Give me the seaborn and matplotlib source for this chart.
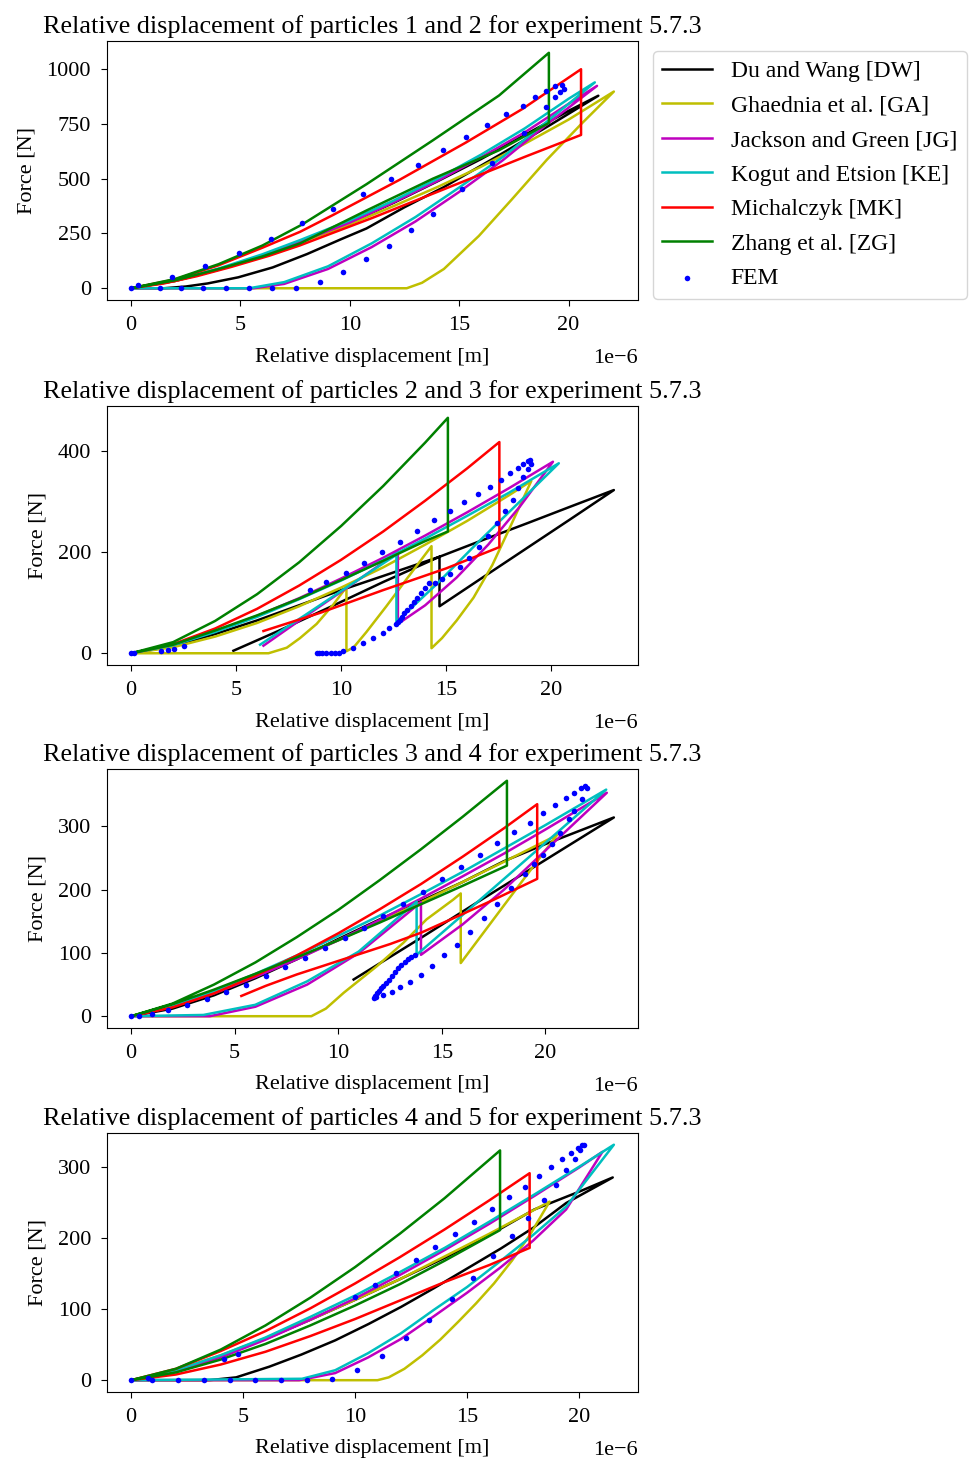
import numpy as np
import matplotlib
matplotlib.use("Agg")
import matplotlib.pyplot as plt
import seaborn as sns

# ---------------------------------------------------------------------------
# Labels
# ---------------------------------------------------------------------------
MODELS = ["Du and Wang [DW]", "Ghaednia et al. [GA]", "Jackson and Green [JG]",
          "Kogut and Etsion [KE]", "Michalczyk [MK]", "Zhang et al. [ZG]"]
MODEL_KEYS = ["DW", "GA", "JG", "KE", "MK", "ZG"]
COLORS = ["k", "y", "m", "c", "r", "g"]
PAIRS = ["1 and 2", "2 and 3", "3 and 4", "4 and 5"]
EXPERIMENT = "5.7.3"
X_TICKS_UM = [0, 5, 10, 15, 20]
Y_TICKS = [[0, 250, 500, 750, 1000], [0, 200, 400], [0, 100, 200, 300], [0, 100, 200, 300]]

# ---------------------------------------------------------------------------
# Force [N] vs relative displacement [um]; each path follows the loop in order
# ---------------------------------------------------------------------------
# particles 1 and 2
P1_DW_X = [0, 2, 4, 6, 8, 10, 12, 14, 16, 18, 20, 21.36, 19.1, 16.8, 14.3, 12.5, 10.76, 9.6, 8.04, 6.47, 4.9, 3.5, 2.5, 1.5, 0]
P1_DW_Y = [0, 33, 85, 150, 225, 300, 390, 488, 590, 700, 810, 879, 742, 606, 462, 370, 273, 224, 156, 95, 50, 22, 8, 0, 0]
P1_GA_X = [0, 2, 4, 6, 7.73, 10, 12, 14, 16, 18, 20, 22.07, 20.6, 19.0, 17.4, 15.9, 14.3, 13.3, 12.6, 0]
P1_GA_Y = [0, 33, 85, 148, 208, 292, 375, 462, 555, 660, 770, 898, 752, 586, 405, 239, 88, 25, 0, 0]
P1_JG_X = [0, 2, 4, 6, 7.73, 10, 12, 14, 16, 18, 20, 21.3, 19, 17, 15, 13, 11, 9, 7, 5.6, 0]
P1_JG_Y = [0, 34, 87, 150, 212, 300, 392, 490, 598, 712, 842, 924, 748, 585, 440, 305, 188, 88, 20, 0, 0]
P1_KE_X = [0, 2, 4, 6, 7.73, 10, 12, 14, 16, 18, 20, 21.2, 19, 17, 15, 13, 11, 9, 7, 5.4, 0]
P1_KE_Y = [0, 35, 90, 155, 220, 310, 400, 500, 610, 730, 865, 940, 760, 600, 460, 325, 205, 100, 28, 0, 0]
P1_MK_X = [0, 2, 4, 6, 7.73, 9.24, 12.27, 15.3, 17.88, 20.57, 20.57, 18, 15.5, 13, 11, 9.2, 7.7, 6.3, 4.6, 3, 1.5, 0]
P1_MK_Y = [0, 40, 105, 185, 258, 335, 495, 665, 818, 1000, 700, 600, 500, 400, 320, 252, 195, 148, 98, 55, 22, 0]
P1_ZG_X = [0, 2, 4, 6, 7.8, 10.76, 13.79, 16.82, 19.1, 19.1, 16.82, 13.79, 10.76, 7.73, 6, 4, 2, 0]
P1_ZG_Y = [0, 42, 110, 195, 290, 475, 675, 880, 1075, 755, 630, 500, 355, 205, 145, 88, 36, 0]
P1_FEM_X = [0, 0.3, 1.85, 3.39, 4.91, 6.39, 7.8, 9.21, 10.6, 11.9, 13.1, 14.27, 15.3, 16.26, 17.12, 17.9,
            18.48, 18.97, 19.36, 19.7, 19.77, 19.62, 19.36, 18.97, 17.95, 16.49, 15.15, 13.8, 12.8, 11.79,
            10.75, 9.7, 8.64, 7.54, 6.43, 5.38, 4.33, 3.29, 2.27, 1.3]
P1_FEM_Y = [0, 15, 53, 101, 163, 227, 297, 364, 430, 500, 565, 630, 689, 745, 797, 834,
            872, 901, 924, 928, 912, 898, 871, 826, 710, 570, 455, 340, 264, 193,
            133, 76, 30, 0, 0, 0, 0, 0, 0, 0]

# particles 2 and 3
P2_DW_X = [0, 2, 4, 6, 8, 10, 12, 14.68, 16.8, 18.9, 20.9, 22.98, 20.9, 18.8, 16.7, 14.68, 14.68, 12, 9.5, 7, 4.87]
P2_DW_Y = [0, 14, 38, 65, 95, 125, 153, 191, 225, 258, 290, 323, 265, 207, 149, 93, 191, 141, 92, 44, 5]
P2_GA_X = [0, 2, 4, 6, 8, 10, 12, 14, 16, 18, 19.05, 18.1, 17.2, 16.3, 15.5, 14.8, 14.3, 14.3, 13.1, 12.15,
           11.2, 10.6, 10.25, 10.25, 9.62, 8.83, 8.04, 7.41, 6.54, 0]
P2_GA_Y = [0, 12, 33, 60, 93, 130, 170, 215, 262, 313, 341, 255, 175, 110, 65, 30, 10, 212, 146, 93,
           42, 12, 4, 131, 96, 58, 30, 11, 0, 0]
P2_JG_X = [0, 2, 4, 6, 8, 10, 12, 14, 16, 18, 20.08, 18.5, 17, 15.5, 14, 12.7, 12.7, 10.5, 8.5, 6.3]
P2_JG_Y = [0, 17, 43, 74, 109, 148, 189, 233, 279, 327, 379, 290, 215, 150, 95, 58, 200, 136, 79, 15]
P2_KE_X = [0, 2, 4, 6, 8, 10, 12, 14, 16, 18, 20.36, 18.5, 16.5, 14.5, 12.63, 12.63, 10.5, 8.3, 6.14]
P2_KE_Y = [0, 16, 42, 72, 107, 144, 184, 227, 272, 318, 376, 300, 219, 135, 62, 195, 137, 76, 17]
P2_MK_X = [0, 2, 4, 6, 8, 10, 12, 14, 16, 17.53, 17.53, 15, 12, 9, 6.3]
P2_MK_Y = [0, 18, 49, 88, 134, 185, 241, 302, 366, 418, 210, 168, 125, 80, 44]
P2_ZG_X = [0, 2, 4, 6, 8, 10, 12, 14, 15.08, 15.08, 14, 12, 10, 8, 6, 4, 2, 0]
P2_ZG_Y = [0, 22, 64, 117, 180, 252, 331, 417, 466, 241, 222, 183, 145, 108, 75, 45, 17, 0]
P2_FEM_X = [0, 0.16, 1.42, 1.74, 2.05, 2.53, 8.51, 9.30, 10.21, 11.08, 11.95, 12.78, 13.61, 14.41, 15.19,
            15.87, 16.5, 17.1, 17.61, 18.04, 18.4, 18.67, 18.88, 19.0, 19.02, 18.9, 18.64, 18.4, 18.16,
            17.82, 17.42, 16.99, 16.55, 16.1, 15.65, 15.2, 14.8, 14.45, 14.2, 14.0, 13.8, 13.6, 13.45,
            13.3, 13.15, 13.0, 12.9, 12.8, 12.7, 12.62, 12.3, 11.99, 11.52, 11.04, 10.57, 10.1, 9.9,
            9.7, 9.5, 9.3, 9.1, 8.95, 8.83]
P2_FEM_Y = [0, 1, 5, 7, 9, 14, 125, 141, 159, 179, 200, 221, 242, 263, 282,
            299, 316, 330, 342, 356, 366, 374, 380, 382, 375, 364, 349, 328, 303,
            281, 258, 233, 211, 188, 170, 157, 147, 140, 140, 130, 120, 110, 102,
            94, 86, 79, 72, 66, 61, 57, 50, 40, 30, 20, 11, 4, 0,
            0, 0, 0, 0, 0, 0]

# particles 3 and 4
P3_DW_X = [0, 2, 4, 6, 8, 10, 12, 14, 16, 18, 20, 23.3, 20, 17, 14, 10.74]
P3_DW_Y = [0, 12, 33, 60, 90, 122, 153, 182, 212, 245, 272, 314, 247, 186, 124, 58]
P3_GA_X = [0, 2, 4, 6, 8, 10, 12, 14, 16, 18, 20.55, 18.2, 15.91, 15.91, 15.54, 14.26, 13.14, 11.86, 10.26, 9.4, 8.7, 0]
P3_GA_Y = [0, 17, 40, 65, 92, 120, 150, 180, 212, 244, 286, 184, 84, 194, 184, 153, 116, 79, 37, 12, 0, 0]
P3_JG_X = [0, 2, 4, 6, 8, 10, 12, 14, 16, 18, 20, 22.96, 20, 18, 16, 13.99, 13.99, 11, 8.5, 6, 3.8, 0]
P3_JG_Y = [0, 15, 36, 62, 90, 120, 152, 186, 221, 257, 295, 353, 262, 200, 145, 97, 180, 100, 50, 15, 0, 0]
P3_KE_X = [0, 2, 4, 6, 8, 10, 12, 14, 16, 18, 20, 22.93, 20, 18, 16, 13.78, 13.78, 10.98, 8.49, 5.99, 3.49, 0]
P3_KE_Y = [0, 17, 40, 67, 96, 127, 159, 193, 228, 265, 302, 358, 274, 217, 160, 97, 181, 102, 55, 18, 2, 0]
P3_MK_X = [0, 2, 4, 6, 8, 10, 12, 14, 16, 18, 19.6, 19.6, 17.5, 15.5, 14, 12.5, 11, 9.5, 8, 6.5, 5.32]
P3_MK_Y = [0, 14, 36, 64, 96, 131, 169, 209, 252, 297, 335, 217, 184, 154, 132, 114, 98, 82, 66, 48, 32]
P3_ZG_X = [0, 2, 4, 6, 8, 10, 12, 14, 16, 18.14, 18.14, 16, 14, 12, 10, 8, 6, 4, 2, 0]
P3_ZG_Y = [0, 20, 50, 85, 125, 168, 215, 264, 315, 372, 238, 206, 177, 148, 120, 93, 67, 42, 19, 0]
P3_FEM_X = [0, 0.4, 1.0, 1.8, 2.7, 3.65, 4.6, 5.55, 6.5, 7.45, 8.4, 9.35, 10.3, 11.23, 12.18, 13.14,
            14.08, 15.0, 15.93, 16.83, 17.68, 18.48, 19.23, 19.86, 20.45, 21.0, 21.38, 21.71, 21.93,
            22.0, 21.76, 21.4, 21.13, 20.72, 20.3, 19.87, 19.45, 19.02, 18.35, 17.68, 17.02, 16.35,
            15.71, 15.1, 14.5, 13.99, 13.46, 13.0, 12.6, 12.15, 11.8, 11.7, 11.75, 11.85, 11.95, 12.05,
            12.15, 12.3, 12.45, 12.6, 12.75, 12.9, 13.05, 13.2, 13.35, 13.5, 13.7]
P3_FEM_Y = [0, 1, 4, 10, 18, 27, 38, 50, 63, 77, 92, 107, 123, 140, 159, 177,
            196, 216, 236, 255, 273, 291, 306, 321, 333, 344, 353, 360, 364,
            361, 343, 325, 311, 290, 272, 255, 240, 225, 202, 178, 155, 133,
            113, 96, 79, 65, 54, 46, 39, 33, 30, 29, 32, 36, 40, 44,
            48, 53, 58, 64, 70, 76, 81, 86, 90, 93, 96]

# particles 4 and 5
P4_DW_X = [0, 2, 4, 6, 8, 10, 12, 14, 16, 18, 20, 21.5, 19.42, 17.94, 16.5, 15, 13.5, 12.05, 10.6, 9.11, 7.6, 6.17, 4.69, 3.5, 0]
P4_DW_Y = [0, 13, 34, 58, 85, 113, 142, 172, 204, 240, 265, 285, 249, 214, 185, 157, 129, 103, 79, 56, 36, 19, 4, 0, 0]
P4_GA_X = [0, 2, 4, 6, 8, 10, 12, 14, 16, 18.68, 17.8, 17, 16.2, 15.4, 14.6, 13.8, 13, 12.2, 11.5, 11, 0]
P4_GA_Y = [0, 14, 35, 59, 85, 113, 142, 174, 206, 251, 204, 168, 136, 108, 82, 57, 35, 16, 4, 0, 0]
P4_JG_X = [0, 2, 4, 6, 8, 10, 12, 14, 16, 18, 20, 21.04, 19.42, 17.94, 16.47, 15, 13.52, 12.05, 10.58, 9.11, 7.5, 0]
P4_JG_Y = [0, 12, 32, 57, 85, 115, 148, 183, 220, 259, 299, 321, 240, 196, 158, 123, 90, 58, 32, 10, 0, 0]
P4_KE_X = [0, 2, 4, 6, 8, 10, 12, 14, 16, 18, 20, 21.55, 19.42, 17.94, 16.47, 15, 13.52, 12.05, 10.58, 9.11, 7.63, 0]
P4_KE_Y = [0, 14, 35, 60, 89, 119, 152, 186, 223, 261, 300, 331, 244, 204, 167, 131, 99, 66, 38, 14, 2, 0]
P4_MK_X = [0, 2, 4, 6, 8, 10, 12, 14, 16, 17.79, 17.79, 16, 14, 12, 10, 8, 6, 4, 2, 0]
P4_MK_Y = [0, 16, 41, 69, 101, 136, 173, 212, 253, 291, 186, 162, 138, 112, 86, 62, 40, 22, 8, 0]
P4_ZG_X = [0, 2, 4, 6, 8, 10, 12, 14, 16.47, 16.47, 14, 12, 10, 8, 6, 4, 2, 0]
P4_ZG_Y = [0, 16, 43, 77, 116, 159, 206, 256, 323, 211, 168, 135, 105, 77, 51, 29, 11, 0]
P4_FEM_X = [0, 0.77, 4.15, 4.76, 10.0, 10.9, 11.83, 12.71, 13.57, 14.45, 15.29, 16.1, 16.87, 17.57, 18.19,
            18.75, 19.23, 19.63, 19.96, 20.15, 20.2, 20.05, 19.81, 19.42, 18.95, 18.43, 17.7, 16.99,
            16.15, 15.25, 14.34, 13.3, 12.27, 11.21, 10.09, 8.95, 7.85, 6.7, 5.55, 4.4, 3.25, 2.1, 0.95]
P4_FEM_Y = [0, 3, 30, 37, 117, 134, 150, 169, 187, 205, 222, 241, 257, 272, 287,
            300, 311, 320, 326, 330, 331, 324, 311, 296, 275, 254, 228, 202,
            174, 144, 114, 85, 59, 34, 14, 1, 0, 0, 0, 0, 0, 0, 0]

# ---------------------------------------------------------------------------
# Assemble per-panel lookup tables
# ---------------------------------------------------------------------------
g = globals()
PANELS = []
for p in range(1, 5):
    curves = {k: (g[f"P{p}_{k}_X"], g[f"P{p}_{k}_Y"]) for k in MODEL_KEYS}
    fem = (g[f"P{p}_FEM_X"], g[f"P{p}_FEM_Y"])
    PANELS.append((curves, fem))

UM = 1e-6  # micrometre -> metre

plt.rcParams["font.family"] = ["Liberation Serif", "DejaVu Serif"]
plt.rcParams["font.size"] = 16
plt.rcParams["axes.titlesize"] = 18.8
plt.rcParams["xtick.major.pad"] = 7
plt.rcParams["ytick.major.pad"] = 7
plt.rcParams["xtick.major.size"] = 4.5
plt.rcParams["ytick.major.size"] = 4.5
plt.rcParams["axes.labelpad"] = 9

fig = plt.figure(figsize=(9.69, 14.6), dpi=100)
left, width, height = 0.1104, 0.548, 0.1774
bottoms = [0.7945, 0.5445, 0.2959, 0.0466]

for i, ((curves, fem), pair) in enumerate(zip(PANELS, PAIRS)):
    ax = fig.add_axes([left, bottoms[i], width, height])
    for key, name, col in zip(MODEL_KEYS, MODELS, COLORS):
        xs, ys = curves[key]
        sns.lineplot(x=np.asarray(xs) * UM, y=np.asarray(ys), sort=False, estimator=None,
                     color=col, lw=1.8, ax=ax, label=name, legend=False)
    sns.scatterplot(x=np.asarray(fem[0]) * UM, y=np.asarray(fem[1]), color="b", s=16,
                    linewidth=0, ax=ax, label="FEM", legend=False, zorder=3)
    ax.set_xticks(np.asarray(X_TICKS_UM) * UM)
    ax.set_yticks(Y_TICKS[i])
    ax.ticklabel_format(axis="x", style="sci", scilimits=(-6, -6))
    ax.xaxis.OFFSETTEXTPAD = 10
    ax.set_title(f"Relative displacement of particles {pair} for experiment {EXPERIMENT}")
    ax.set_xlabel("Relative displacement [m]")
    ax.set_ylabel("Force [N]", labelpad=7)
    if i == 0:
        ax.legend(loc="upper left", bbox_to_anchor=(1.028, 0.961), borderaxespad=0,
                  fontsize=17, labelspacing=0.55, handlelength=2.1)

fig.savefig("out.png", dpi=100)
